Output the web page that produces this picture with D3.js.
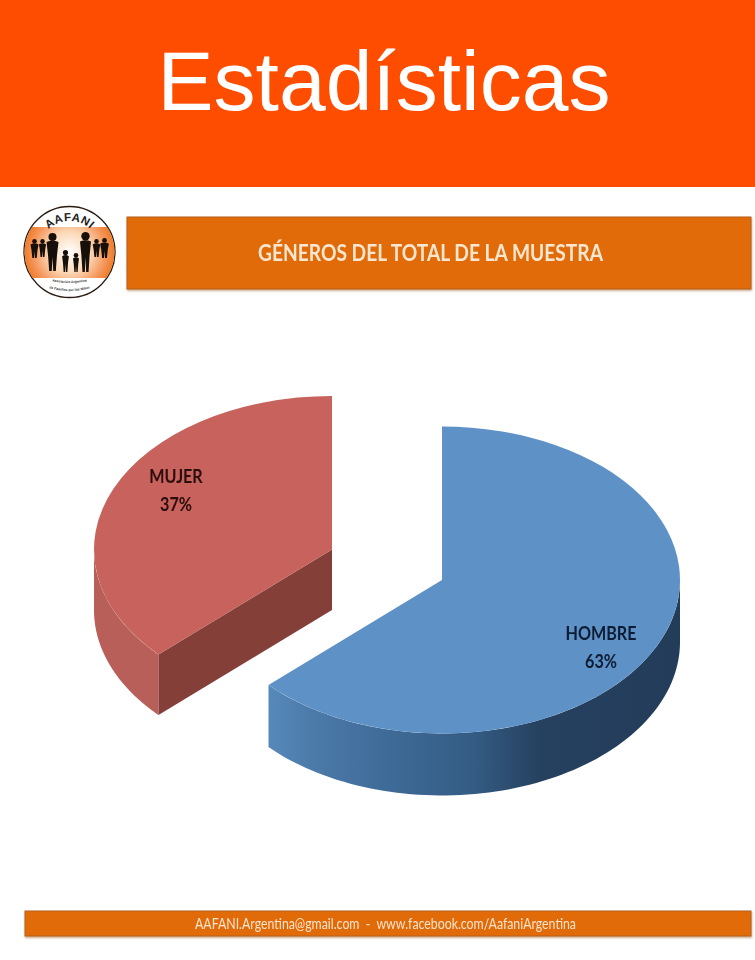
<!DOCTYPE html>
<html><head><meta charset="utf-8">
<script src="https://cdnjs.cloudflare.com/ajax/libs/d3/7.8.5/d3.min.js"></script>
<style>html,body{margin:0;padding:0;background:#fff}svg{display:block}</style></head>
<body><svg id="c" width="755" height="960"></svg>
<script>
const categories = ["HOMBRE", "MUJER"];
const percentages = [63, 37];
const pageTitle = "Estadísticas";
const chartTitle = "GÉNEROS DEL TOTAL DE LA MUESTRA";
const footerText = "AAFANI.Argentina@gmail.com  -  www.facebook.com/AafaniArgentina";

const svg = d3.select("#c");
const defs = svg.append("defs");
const rx = 238, ry = 153.5;
const centers = {HOMBRE:[442,580], MUJER:[332,549.5]};
const depths = {HOMBRE:62, MUJER:60.5};
const tops = {HOMBRE:"#5e92c7", MUJER:"#c7625c"};

// banners
svg.append("rect").attr("width",755).attr("height",187).attr("fill","#ff4d00");
svg.append("text").text(pageTitle).attr("x",384).attr("y",110).attr("text-anchor","middle")
  .attr("font-family","Liberation Sans").attr("font-size",84).attr("fill","#fff");

defs.append("filter").attr("id","soft").append("feGaussianBlur").attr("stdDeviation",0.35);
defs.append("filter").attr("id","shadow").append("feGaussianBlur").attr("stdDeviation",1.2);

function band(x,y,w,h){
  svg.append("rect").attr("x",x).attr("y",y+1).attr("width",w+1).attr("height",h+1).attr("fill","#a8682f").attr("opacity",.55).attr("filter","url(#shadow)");
  svg.append("rect").attr("x",x).attr("y",y).attr("width",w).attr("height",h).attr("fill","#e16b09")
    .attr("stroke","#b5601c").attr("stroke-width",1);
}
band(127,217,624,72);
band(25,911,726,25);
svg.append("text").text(chartTitle).attr("x",430.5).attr("y",261).attr("text-anchor","middle")
  .attr("font-family","Lato").attr("font-weight",700).attr("font-size",23).attr("fill","#fbe6d0")
  .attr("textLength",345).attr("lengthAdjust","spacingAndGlyphs").attr("filter","url(#soft)");
svg.append("text").text(footerText).attr("x",385.5).attr("y",929).attr("text-anchor","middle")
  .attr("xml:space","preserve").attr("font-family","Lato").attr("font-size",15).attr("fill","#fbe3cc")
  .attr("textLength",381).attr("lengthAdjust","spacingAndGlyphs").attr("filter","url(#soft)");

// pie
const pie = d3.pie().value(d=>d.v).sort(null);
const slices = pie(categories.map((n,i)=>({n,v:percentages[i]})));
const arc = d3.arc().innerRadius(0).outerRadius(rx);
const ptX = a => rx*Math.sin(a), ptY = a => -ry*Math.cos(a);

// rim gradient for the blue slice (in the slice's local coordinates)
const grad = defs.append("linearGradient").attr("id","blueRim").attr("gradientUnits","userSpaceOnUse")
  .attr("x1",-175).attr("x2",238).attr("y1",0).attr("y2",0);
[[0,"#5689bb"],[.12,"#4b79a8"],[.3,"#3e6a97"],[.5,"#345c84"],[.66,"#26415f"],[1,"#223c5a"]]
  .forEach(s=>grad.append("stop").attr("offset",s[0]).attr("stop-color",s[1]));

function rimPath(a0,a1,depth){
  const n = 80, angs = d3.range(n+1).map(i=>a0+(a1-a0)*i/n);
  const top = angs.map(a=>[ptX(a),ptY(a)]);
  const bot = angs.slice().reverse().map(a=>[ptX(a),ptY(a)+depth]);
  return d3.line()(top.concat(bot))+"Z";
}

slices.forEach(s=>{
  const name = s.data.n, [cx,cy] = centers[name], depth = depths[name];
  const g = svg.append("g").attr("transform",`translate(${cx},${cy})`);
  if(name==="HOMBRE"){
    g.append("path").attr("d",rimPath(Math.PI/2,s.endAngle,depth)).attr("fill","url(#blueRim)");
  } else {
    g.append("path").attr("d",rimPath(s.startAngle,3*Math.PI/2,depth)).attr("fill","#b85f59");
    const ex = ptX(s.startAngle), ey = ptY(s.startAngle);
    g.append("path").attr("d",d3.line()([[0,0],[ex,ey],[ex,ey+depth],[0,depth]])+"Z").attr("fill","#843f39");
  }
  g.append("path").attr("d",arc({startAngle:s.startAngle,endAngle:s.endAngle}))
    .attr("transform",`scale(1,${ry/rx})`).attr("fill",tops[name]);
});

// labels
const labelPos = {HOMBRE:[601,640], MUJER:[176,483]};
const labelFill = {HOMBRE:"#0b1c33", MUJER:"#2a0b0b"};
categories.forEach((n,i)=>{
  const [x,y] = labelPos[n];
  [[n,0],[percentages[i]+"%",28]].forEach(([txt,dy])=>{
    svg.append("text").text(txt).attr("text-anchor","middle")
      .attr("transform",`translate(${x},${y+dy}) scale(.85,1)`)
      .attr("font-family","Lato").attr("font-weight",700).attr("font-size",19)
      .attr("fill",labelFill[n]).attr("filter","url(#soft)");
  });
});

// logo
const L = svg.append("g").attr("transform","translate(69.5,252)");
const lg = defs.append("radialGradient").attr("id","logoG").attr("gradientUnits","userSpaceOnUse")
  .attr("cx",0).attr("cy",0).attr("r",46);
[[0,"#ffffff"],[.45,"#fcd8b6"],[.8,"#f4955a"],[1,"#ee7a22"]].forEach(s=>lg.append("stop").attr("offset",s[0]).attr("stop-color",s[1]));
defs.append("clipPath").attr("id","logoClip").append("circle").attr("r",45);
L.append("circle").attr("r",45.5).attr("fill","#fff").attr("stroke","#2a1c12").attr("stroke-width",1.3);
L.append("g").attr("clip-path","url(#logoClip)").append("rect").attr("x",-46).attr("y",-25).attr("width",92).attr("height",51).attr("fill","url(#logoG)");
L.append("path").attr("id","logoTop").attr("d","M-31,0 A31,31 0 0 1 31,0").attr("fill","none");
L.append("text").attr("font-family","Liberation Sans").attr("font-weight",700).attr("font-size",11.5).attr("letter-spacing",.6).attr("fill","#222")
  .append("textPath").attr("href","#logoTop").attr("startOffset","50%").attr("text-anchor","middle").text("AAFANI");
L.append("path").attr("id","logoBot1").attr("d","M-24,28 Q0,34 24,28").attr("fill","none");
L.append("text").attr("font-family","Liberation Sans").attr("font-weight",700).attr("font-size",3.4).attr("fill","#333")
  .append("textPath").attr("href","#logoBot1").attr("startOffset","50%").attr("text-anchor","middle").text("Asociación Argentina");
L.append("path").attr("id","logoBot2").attr("d","M-25,35 Q0,43 25,35").attr("fill","none");
L.append("text").attr("font-family","Liberation Sans").attr("font-weight",700).attr("font-size",3.4).attr("fill","#333")
  .append("textPath").attr("href","#logoBot2").attr("startOffset","50%").attr("text-anchor","middle").text("de Familias por los Niños");
// silhouettes: x, head top y, feet y, half shoulder width
const people = [[-35,-13,6,4],[-27,-13,5,3.6],[-17,-19,19,6],[-4,-2,20,3.4],[6.5,1,20,3],[16,-20,20,5.5],[27,-13,5,3.8],[35,-14,6,4.4]];
people.forEach(([x,t,f,w])=>{
  const h = f-t, hr = h*.09+0.6, p = L.append("g").attr("fill","#17100a");
  p.append("circle").attr("cx",x).attr("cy",t+hr).attr("r",hr);
  const s = t+hr*2, hip = t+h*.58;
  p.append("path").attr("d",`M${x-w},${s+1} Q${x},${s-1.5} ${x+w},${s+1} L${x+w*.75},${hip} L${x+w*.55},${f} L${x+w*.12},${f} L${x},${hip+h*.06} L${x-w*.12},${f} L${x-w*.55},${f} L${x-w*.75},${hip} Z`);
});
</script></body></html>
